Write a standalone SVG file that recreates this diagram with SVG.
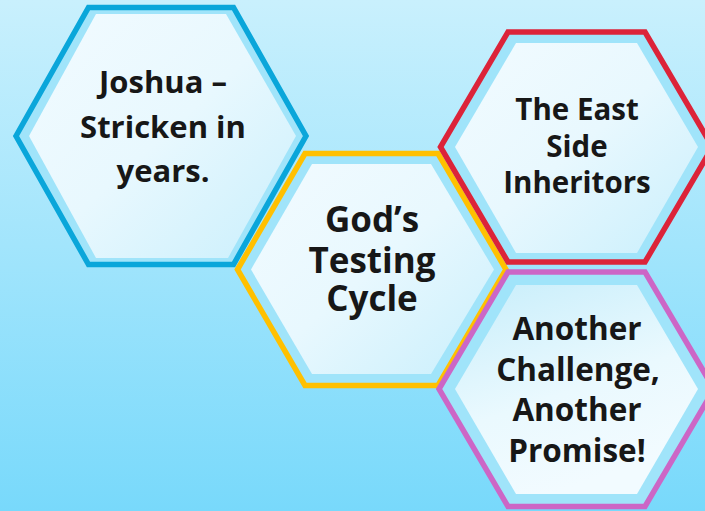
<svg xmlns="http://www.w3.org/2000/svg" width="705" height="511" viewBox="0 0 705 511">
  <defs>
    <linearGradient id="bg" x1="0" y1="0" x2="0" y2="1">
      <stop offset="0" stop-color="#c9f0fd"/>
      <stop offset="1" stop-color="#78d9fb"/>
    </linearGradient>
    <linearGradient id="inner" x1="0" y1="0" x2="1" y2="1">
      <stop offset="0" stop-color="#f2fbff"/>
      <stop offset="0.5" stop-color="#e8f8fe"/>
      <stop offset="1" stop-color="#c9effc"/>
    </linearGradient>
    <linearGradient id="innerRev" x1="0" y1="0" x2="0.4" y2="1">
      <stop offset="0" stop-color="#c8eefb"/>
      <stop offset="0.6" stop-color="#eaf9fe"/>
      <stop offset="1" stop-color="#f2fbff"/>
    </linearGradient>
    <style>
      .band { fill: #a0e4fa; stroke-width: 5.5; stroke-linejoin: miter; }
      .in { fill: url(#inner); }
      .inr { fill: url(#innerRev); }
      .t { font-family: "Open Sans", "Liberation Sans", sans-serif; font-weight: bold; fill: #171717; text-anchor: middle; }
    </style>
  </defs>
  <rect x="0" y="0" width="705" height="511" fill="url(#bg)"/>

  <g id="joshua">
    <polygon class="band" stroke="#0aa6da" points="16,136 88.5,7.5 233.5,7.5 306,136 233.5,264.5 88.5,264.5"/>
    <polygon class="in" points="29,136 96,14 226,14 296,136 228,258 96,258"/>
    <text class="t" font-size="31" x="163" y="93">Joshua –</text>
    <text class="t" font-size="31" x="163" y="138">Stricken in</text>
    <text class="t" font-size="31" x="163" y="182">years.</text>
  </g>

  <g id="testing">
    <polygon class="band" stroke="#ffc000" points="237.5,269.5 305,153.5 438,153.5 506,269.5 438,385.5 305,385.5"/>
    <polygon class="in" points="251,269.5 312,164 431,164 494,269.5 431,374 312,374"/>
    <text class="t" font-size="35" x="372" y="232">God’s</text>
    <text class="t" font-size="35" x="372" y="273">Testing</text>
    <text class="t" font-size="35" x="372" y="311">Cycle</text>
  </g>

  <g id="east">
    <polygon class="band" stroke="#dc2339" points="440.5,147 508,32 645,32 712.5,147 645,262 508,262"/>
    <polygon class="in" points="455,147 516,43 637,43 698,147 637,253 516,253"/>
    <text class="t" font-size="29.5" x="577" y="120">The East</text>
    <text class="t" font-size="29.5" x="577" y="157">Side</text>
    <text class="t" font-size="29.5" x="577" y="193">Inheritors</text>
  </g>

  <g id="promise">
    <polygon class="band" stroke="#cc66c6" points="439,389 508,272 645,272 714,389 645,506.5 508,506.5"/>
    <polygon class="inr" points="455,389 516,285 637,285 698,389 637,494 516,494"/>
    <text class="t" font-size="31.5" x="577" y="340">Another</text>
    <text class="t" font-size="31.5" x="578" y="381">Challenge,</text>
    <text class="t" font-size="31.5" x="577" y="421">Another</text>
    <text class="t" font-size="31.5" x="577" y="462">Promise!</text>
  </g>

  <g id="connectors"></g>
</svg>
